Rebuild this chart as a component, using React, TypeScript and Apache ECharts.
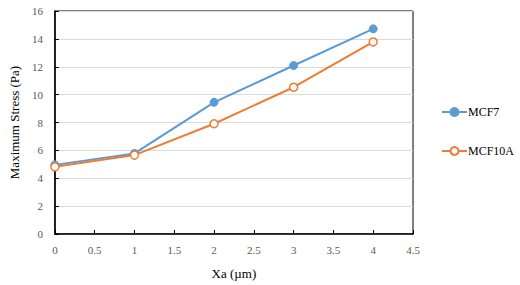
import React, { useEffect, useRef } from "react";
import * as echarts from "echarts";

const xValues = [0, 1, 2, 3, 4];
const mcf7 = [4.96, 5.78, 9.45, 12.09, 14.72];
const mcf10a = [4.82, 5.66, 7.91, 10.53, 13.78];
const seriesNames = ["MCF7", "MCF10A"];
const xTitle = "Xa (µm)";
const yTitle = "Maximum Stress (Pa)";

const FONT = "Liberation Serif, Times New Roman, serif";

export default function App() {
  const ref = useRef<HTMLDivElement>(null);
  useEffect(() => {
    if (!ref.current) return;
    const chart = echarts.init(ref.current, null, { renderer: "svg" });
    const mk = (vals: number[]) => vals.map((v, i) => [xValues[i], v]);
    chart.setOption({
      animation: false,
      backgroundColor: "#ffffff",
      textStyle: { fontFamily: FONT },
      grid: {
        left: 51,
        top: 11,
        width: 362,
        height: 228,
        show: true,
        borderColor: "#000000",
        borderWidth: 1,
        backgroundColor: "transparent",
      },
      legend: {
        orient: "vertical",
        left: 441,
        top: 106,
        padding: 0,
        itemWidth: 25,
        itemHeight: 10,
        itemGap: 27,
        data: seriesNames,
        textStyle: { fontFamily: FONT, fontSize: 12, color: "#000000", padding: [0, 0, 0, -4] },
      },
      xAxis: {
        type: "value",
        min: 0,
        max: 4.5,
        interval: 0.5,
        name: xTitle,
        nameLocation: "middle",
        nameGap: 33,
        nameTextStyle: { fontFamily: FONT, fontSize: 13, color: "#000000" },
        axisLine: { show: true, lineStyle: { color: "#000000", width: 1.5 } },
        axisTick: { show: true, inside: true, length: 4, lineStyle: { color: "#000000" } },
        axisLabel: { fontFamily: FONT, fontSize: 11, color: "#595959", margin: 10 },
        splitLine: { show: false },
      },
      yAxis: {
        type: "value",
        min: 0,
        max: 16,
        interval: 2,
        name: yTitle,
        nameLocation: "middle",
        nameGap: 32,
        nameTextStyle: { fontFamily: FONT, fontSize: 13, color: "#000000" },
        axisLine: { show: true, lineStyle: { color: "#000000", width: 1.5 } },
        axisTick: { show: true, inside: true, length: 4, lineStyle: { color: "#000000" } },
        axisLabel: { fontFamily: FONT, fontSize: 11, color: "#595959", margin: 12 },
        splitLine: { show: true, lineStyle: { color: "#d9d9d9", width: 1 } },
      },
      series: [
        {
          name: seriesNames[0],
          type: "line",
          data: mk(mcf7),
          symbol: "circle",
          symbolSize: 8,
          lineStyle: { color: "#5b9bd5", width: 2 },
          itemStyle: { color: "#5b9bd5", borderColor: "#5b9bd5", borderWidth: 1 },
        },
        {
          name: seriesNames[1],
          type: "line",
          data: mk(mcf10a),
          symbol: "circle",
          symbolSize: 8,
          lineStyle: { color: "#ed7d31", width: 2 },
          itemStyle: { color: "#ffffff", borderColor: "#ed7d31", borderWidth: 1.5 },
        },
      ],
    });
    return () => chart.dispose();
  }, []);
  return (
    <div
      ref={ref}
      style={{ position: "fixed", left: 0, top: 0, width: 520, height: 285 }}
    />
  );
}
